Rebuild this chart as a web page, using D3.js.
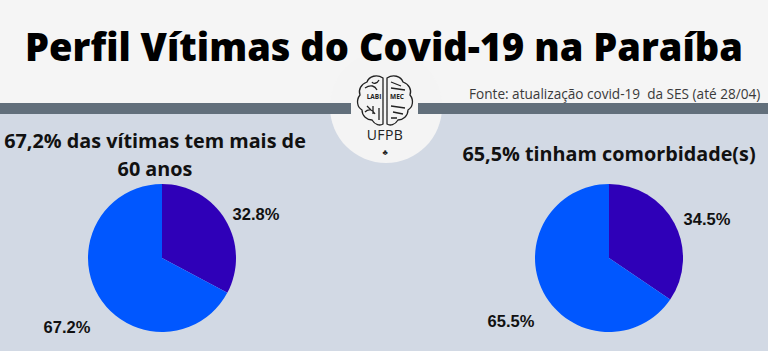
<!DOCTYPE html>
<html lang="pt">

<head>
  <meta charset="UTF-8">
  <title>Perfil Vítimas do Covid-19 na Paraíba</title>
  <script src="https://d3js.org/d3.v7.min.js"></script>
  <style>
    html, body { margin: 0; padding: 0; background: #d2d9e4; overflow: hidden; }
    svg { display: block; }
    text { font-family: "Open Sans", sans-serif; }
  </style>
</head>

<body>
  <svg width="768" height="351"></svg>
</body>

<script>
  const categories = ["Outros", "Grupo"];
  const idadeValues = [32.8, 67.2];
  const comorbValues = [34.5, 65.5];
  const idadeLabels = ["32.8%", "67.2%"];
  const comorbLabels = ["34.5%", "65.5%"];
  const sliceColors = ["#2f00b8", "#0057ff"];

  const svg = d3.select("svg");
  const width = +svg.attr("width");
  const height = +svg.attr("height");

  const colorScale = d3.scaleOrdinal().domain(categories).range(sliceColors);

  // fundo + cabecalho
  svg.append("rect").attr("width", width).attr("height", height).attr("fill", "#d2d9e4");
  svg.append("rect").attr("width", width).attr("height", 103).attr("fill", "#f5f5f5");

  svg.append("circle")
    .attr("cx", 386).attr("cy", 107).attr("r", 56)
    .attr("fill", "#f4f4f4");

  svg.append("rect").attr("x", 0).attr("y", 103).attr("width", 351).attr("height", 11).attr("fill", "#626f7b");
  svg.append("rect").attr("x", 418).attr("y", 103).attr("width", 350).attr("height", 11).attr("fill", "#626f7b");

  svg.append("text")
    .attr("x", 384).attr("y", 61)
    .attr("text-anchor", "middle")
    .attr("font-size", 38)
    .attr("font-weight", 800)
    .attr("fill", "#000")
    .text("Perfil Vítimas do Covid-19 na Paraíba");

  svg.append("text")
    .attr("x", 469).attr("y", 99)
    .attr("font-size", 13.6)
    .attr("fill", "#3a3a3a")
    .style("white-space", "pre")
    .text("Fonte: atualização covid-19  da SES (até 28/04)");

  /**
   * logo
   */
  const logo = svg.append("g").attr("transform", "translate(385,102)");
  const brain = logo.append("g").attr("fill", "none").attr("stroke", "#222").attr("stroke-width", 1.3);
  brain.append("path").attr("d", "M-2,-24 C-8,-28 -16,-26 -18,-20 C-24,-18 -27,-12 -25,-7 C-29,-2 -28,5 -23,8 C-23,14 -18,18 -13,18 C-10,23 -5,24 -2,22 Z");
  brain.append("path").attr("d", "M2,-24 C8,-28 16,-26 18,-20 C24,-18 27,-12 25,-7 C29,-2 28,5 23,8 C23,14 18,18 13,18 C10,23 5,24 2,22 Z");
  brain.append("path").attr("d", "M-20,-14 C-14,-18 -10,-16 -8,-12 M-6,-22 C-8,-18 -12,-18 -13,-20 M-20,10 C-16,6 -12,8 -10,12 M-6,6 L-6,18 M-12,4 L-12,12 M-18,4 L-14,8");
  brain.append("path").attr("d", "M6,-20 L16,-16 M6,-14 L20,-12 M6,4 L20,6 M8,10 L18,12 M6,16 L12,16");
  logo.append("text").attr("x", -11).attr("y", -3).attr("text-anchor", "middle")
    .attr("font-size", 6.5).attr("font-weight", 700).attr("fill", "#222").text("LABI");
  logo.append("text").attr("x", 12).attr("y", -3).attr("text-anchor", "middle")
    .attr("font-size", 6.5).attr("font-weight", 700).attr("fill", "#222").text("MEC");
  logo.append("text").attr("x", 0).attr("y", 38).attr("text-anchor", "middle")
    .attr("font-size", 14).attr("fill", "#222").attr("letter-spacing", 0.4).text("UFPB");
  logo.append("text").attr("x", 0).attr("y", 53).attr("text-anchor", "middle")
    .attr("font-size", 8).attr("fill", "#222").text("♣");

  /**
   * pizzas
   */
  const pie = d3.pie().sort(null);
  const arc = d3.arc().innerRadius(0).outerRadius(74);

  function drawPie(cx, cy, values, labels, labelPos) {
    const g = svg.append("g").attr("transform", "translate(" + cx + "," + cy + ")");
    g.selectAll("path")
      .data(pie(values))
      .enter()
      .append("path")
      .attr("d", arc)
      .attr("fill", (d, i) => colorScale(categories[i]));
    g.selectAll("text")
      .data(labels)
      .enter()
      .append("text")
      .attr("x", (d, i) => labelPos[i][0] - cx)
      .attr("y", (d, i) => labelPos[i][1] - cy)
      .attr("text-anchor", "middle")
      .style("font-family", "'Liberation Sans', sans-serif")
      .attr("font-size", 16.5)
      .attr("font-weight", 700)
      .attr("fill", "#111")
      .text(d => d);
  }

  drawPie(162, 258, idadeValues, idadeLabels, [[256, 220], [67, 333]]);
  drawPie(609, 258, comorbValues, comorbLabels, [[707, 225], [511, 327]]);

  /**
   * titulos das pizzas
   */
  svg.append("text").attr("x", 155).attr("y", 148).attr("text-anchor", "middle")
    .attr("font-size", 19.8).attr("font-weight", 700).attr("fill", "#111")
    .text("67,2% das vítimas tem mais de");
  svg.append("text").attr("x", 155).attr("y", 176).attr("text-anchor", "middle")
    .attr("font-size", 19.8).attr("font-weight", 700).attr("fill", "#111")
    .text("60 anos");
  svg.append("text").attr("x", 609).attr("y", 161).attr("text-anchor", "middle")
    .attr("font-size", 19.8).attr("font-weight", 700).attr("fill", "#111")
    .text("65,5% tinham comorbidade(s)");
</script>

</html>
